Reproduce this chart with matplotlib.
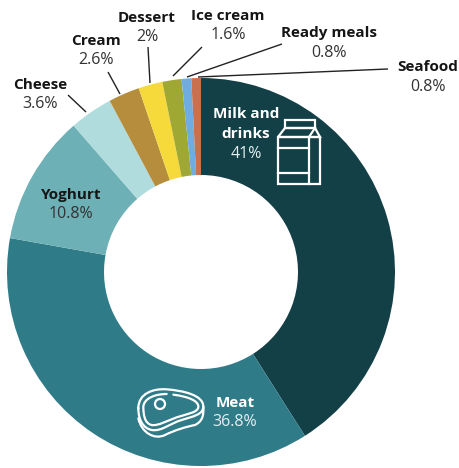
import matplotlib
matplotlib.use("Agg")
import matplotlib.pyplot as plt
from matplotlib.patches import Circle, Polygon, Rectangle, PathPatch
from matplotlib.path import Path

categories = ["Milk and\ndrinks", "Meat", "Yoghurt", "Cheese", "Cream",
              "Dessert", "Ice cream", "Ready meals", "Seafood"]
values = [41, 36.8, 10.8, 3.6, 2.6, 2, 1.6, 0.8, 0.8]
value_labels = ["41%", "36.8%", "10.8%", "3.6%", "2.6%", "2%", "1.6%", "0.8%", "0.8%"]
colors = ["#133f47", "#2f7b88", "#6db0b5", "#b0dcdd", "#b58d3d",
          "#f6d93a", "#9fa833", "#6fade0", "#c9704f"]

W, H = 460, 468
plt.rcParams["font.family"] = ["Open Sans", "DejaVu Sans"]
fig = plt.figure(figsize=(W / 100, H / 100), dpi=100)

# donut
cx, cy, r = 201, 272, 194
ax = fig.add_axes([(cx - r) / W, 1 - (cy + r) / H, 2 * r / W, 2 * r / H])
ax.pie(values, colors=colors, startangle=90, counterclock=False, radius=1,
       wedgeprops=dict(width=0.5, edgecolor="none"))
ax.set_xlim(-1, 1)
ax.set_ylim(-1, 1)
ax.axis("off")

# overlay in pixel coordinates for labels, leaders and icons
ov = fig.add_axes([0, 0, 1, 1])
ov.set_xlim(0, W)
ov.set_ylim(H, 0)
ov.axis("off")
ov.patch.set_alpha(0)

dark = "#151515"
grey = "#333333"
white = "#ffffff"
pale = "#e4f0f0"
label_pos = [(246, 114, None), (235, 403, 422), (71, 195, 214),
             (40, 85, 104), (96, 41, 60), (147, 18, 37),
             (228, 16, 35), (329, 33, 53), (428, 67, 87)]

for i, name in enumerate(categories):
    x, y1, y2 = label_pos[i]
    on_dark = i in (0, 1)
    c1 = white if on_dark else dark
    c2 = pale if on_dark else grey
    if i == 0:
        ov.text(x, y1, "Milk and", ha="center", va="center", fontsize=11, fontweight="bold", color=c1)
        ov.text(x, y1 + 20, "drinks", ha="center", va="center", fontsize=11, fontweight="bold", color=c1)
        ov.text(x, y1 + 40, value_labels[i], ha="center", va="center", fontsize=11.5, color=c2)
    else:
        ov.text(x, y1, name, ha="center", va="center", fontsize=11, fontweight="bold", color=c1)
        ov.text(x, y2, value_labels[i], ha="center", va="center", fontsize=11.5, color=c2)

leaders = [((68, 95), (86, 112)), ((108, 72), (120, 94)), ((148, 47), (150, 83)),
           ((202, 47), (173, 76)), ((282, 44), (187, 77)), ((388, 69), (198, 77))]
for a, b in leaders:
    ov.plot([a[0], b[0]], [a[1], b[1]], color="#222222", lw=1.0, solid_capstyle="butt")

# milk carton icon
lw = 1.6
ov.add_patch(Rectangle((278, 137), 42, 47, fill=False, ec=white, lw=lw))
ov.add_patch(Polygon([(278, 137), (285, 128), (315, 128), (320, 137)], closed=True, fill=False, ec=white, lw=lw))
ov.add_patch(Rectangle((285, 120), 30, 8, fill=False, ec=white, lw=lw))
ov.plot([309, 309], [137, 184], color=white, lw=lw)
ov.plot([309, 315], [137, 128], color=white, lw=lw)
ov.plot([278, 309], [148, 148], color=white, lw=lw)
ov.plot([278, 309], [173, 173], color=white, lw=lw)


# steak icon, control points given in a local 3x grid
def curve(points):
    verts = [(120 + px / 3, 370 + py / 3) for px, py in points]
    codes = [Path.MOVETO] + [Path.CURVE4] * (len(verts) - 1)
    return PathPatch(Path(verts, codes), fill=False, ec=white, lw=lw, capstyle="round")


outer = [(55, 115), (55, 70), (100, 55), (140, 58), (190, 62), (250, 75), (250, 110),
         (250, 135), (215, 140), (185, 150), (150, 160), (125, 185), (95, 180),
         (70, 175), (55, 150), (55, 115)]
lower = [(55, 145), (65, 190), (105, 210), (135, 195), (165, 180), (200, 170), (225, 165),
         (245, 155), (252, 140), (250, 110)]
inner = [(160, 74), (205, 80), (235, 92), (235, 110), (235, 128), (200, 132), (170, 142),
         (140, 153), (115, 168), (95, 165), (72, 160), (70, 130), (70, 110),
         (72, 85), (105, 72), (140, 72)]
ov.add_patch(curve(outer))
ov.add_patch(curve(lower))
ov.add_patch(curve(inner))
ov.add_patch(Circle((160, 404), 5, fill=False, ec=white, lw=lw))

fig.savefig("out.png", dpi=100)
